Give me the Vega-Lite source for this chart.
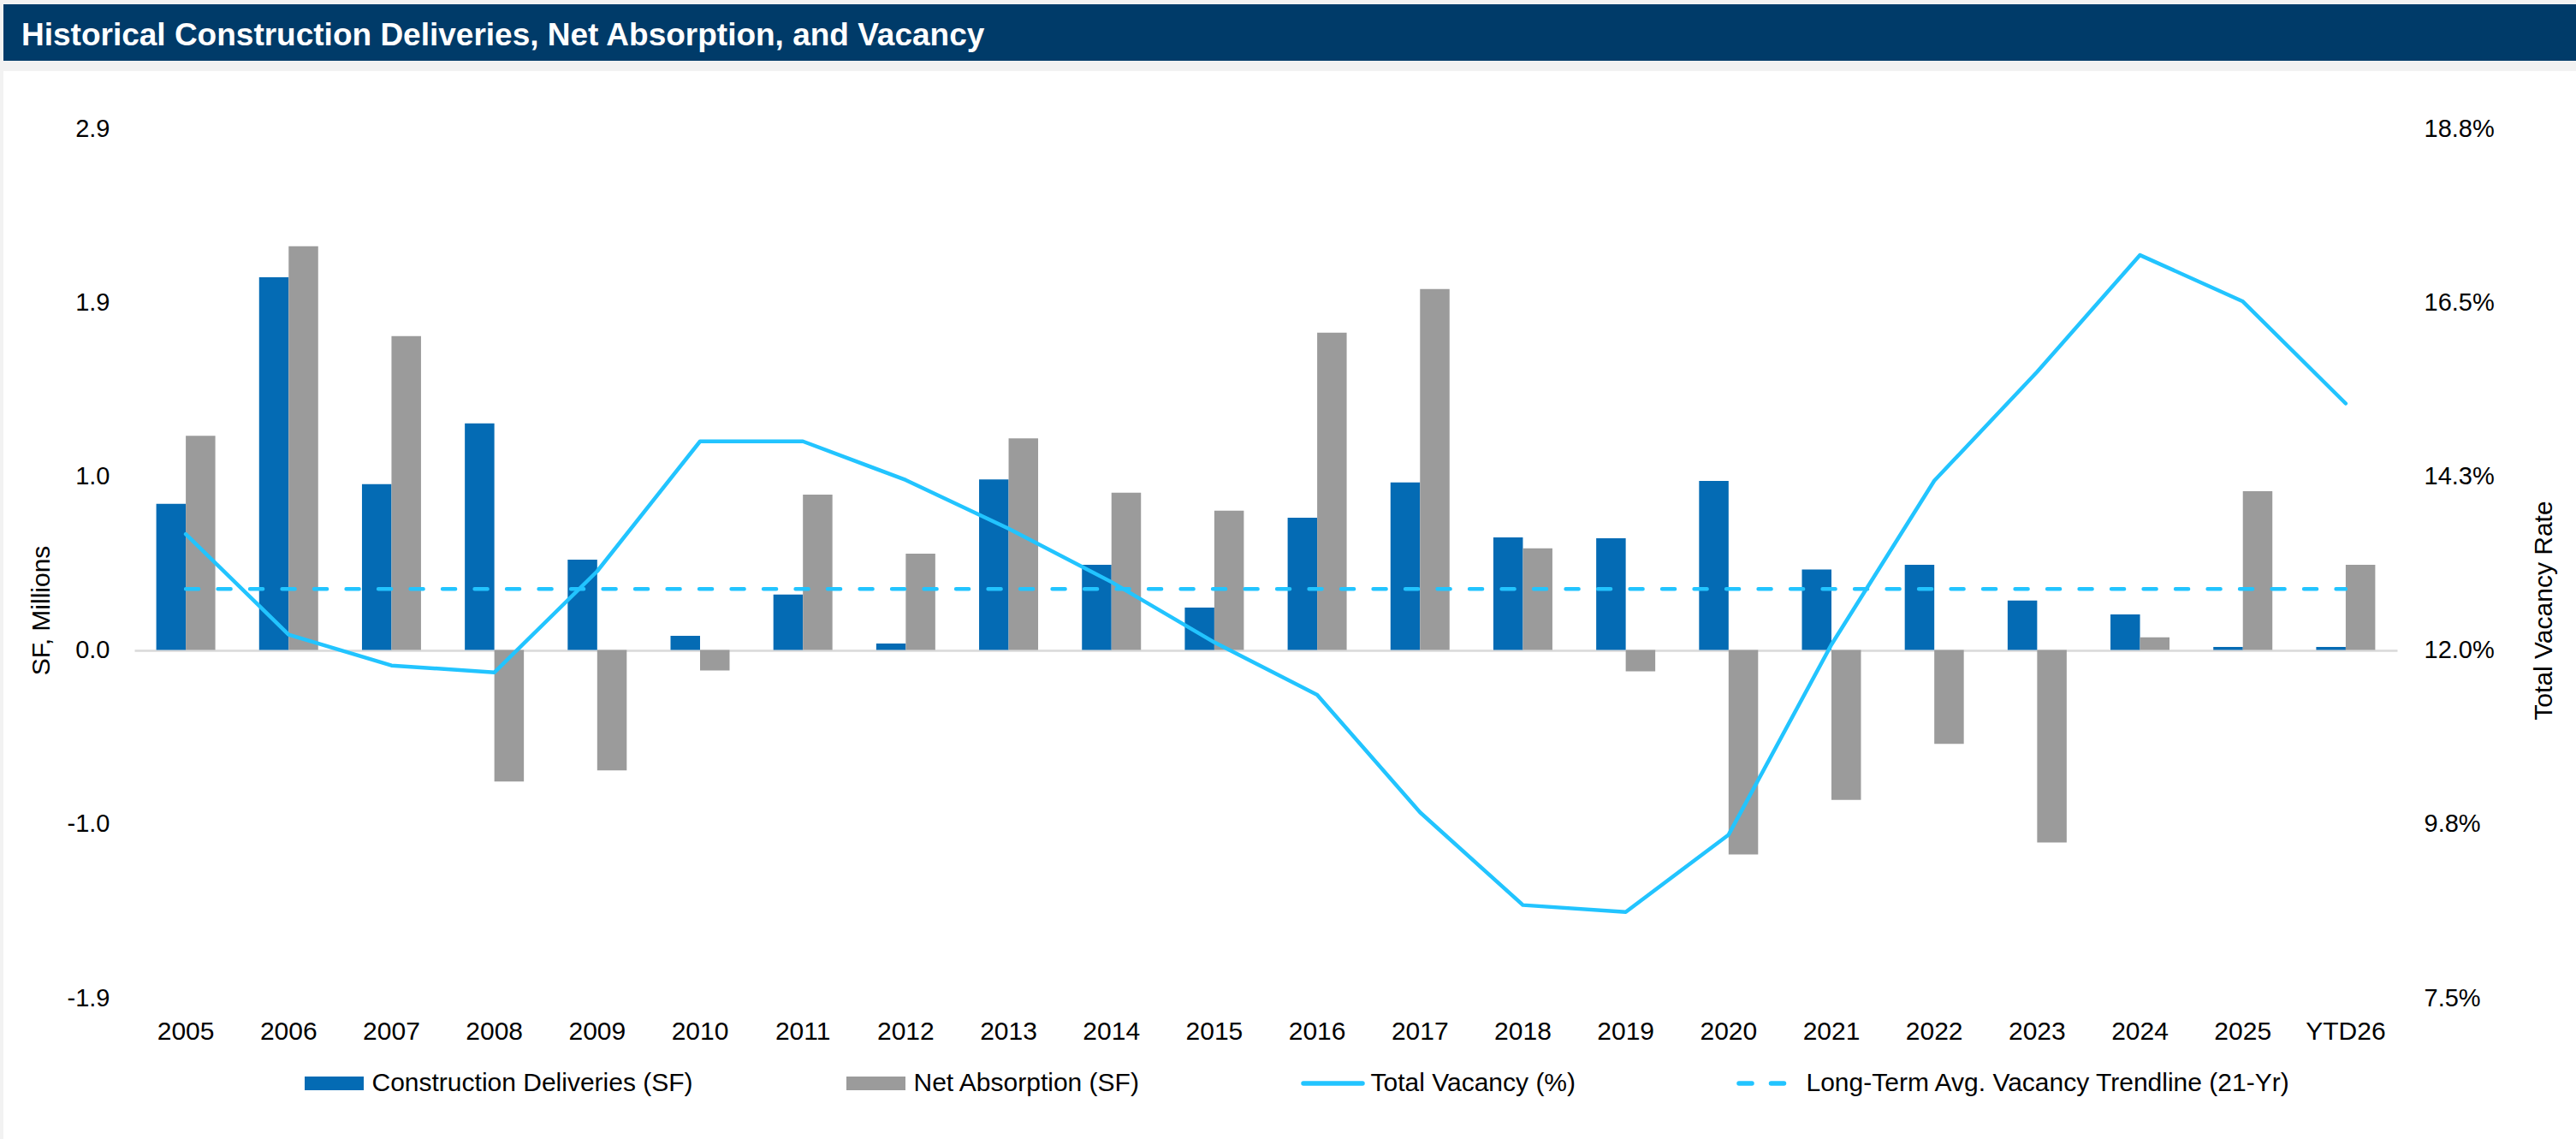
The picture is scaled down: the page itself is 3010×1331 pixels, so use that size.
{
  "$schema": "https://vega.github.io/schema/vega-lite/v6.json",
  "background": "#f2f2f2",
  "padding": {"left": 4, "top": 5, "right": 0, "bottom": 0},
  "spacing": 12,
  "config": {
    "font": "Liberation Sans",
    "view": {"stroke": null},
    "axis": {"labelColor": "#000000", "titleColor": "#000000", "titleFontWeight": "normal", "domain": false, "ticks": false, "tickSize": 0, "grid": false},
    "legend": {"labelColor": "#000000"}
  },
  "datasets": {
    "bars": [
      {"year": "2005", "series": "Construction Deliveries (SF)", "value": 0.807},
      {"year": "2005", "series": "Net Absorption (SF)", "value": 1.183},
      {"year": "2006", "series": "Construction Deliveries (SF)", "value": 2.058},
      {"year": "2006", "series": "Net Absorption (SF)", "value": 2.229},
      {"year": "2007", "series": "Construction Deliveries (SF)", "value": 0.916},
      {"year": "2007", "series": "Net Absorption (SF)", "value": 1.733},
      {"year": "2008", "series": "Construction Deliveries (SF)", "value": 1.251},
      {"year": "2008", "series": "Net Absorption (SF)", "value": -0.726},
      {"year": "2009", "series": "Construction Deliveries (SF)", "value": 0.499},
      {"year": "2009", "series": "Net Absorption (SF)", "value": -0.665},
      {"year": "2010", "series": "Construction Deliveries (SF)", "value": 0.079},
      {"year": "2010", "series": "Net Absorption (SF)", "value": -0.113},
      {"year": "2011", "series": "Construction Deliveries (SF)", "value": 0.306},
      {"year": "2011", "series": "Net Absorption (SF)", "value": 0.858},
      {"year": "2012", "series": "Construction Deliveries (SF)", "value": 0.036},
      {"year": "2012", "series": "Net Absorption (SF)", "value": 0.532},
      {"year": "2013", "series": "Construction Deliveries (SF)", "value": 0.942},
      {"year": "2013", "series": "Net Absorption (SF)", "value": 1.169},
      {"year": "2014", "series": "Construction Deliveries (SF)", "value": 0.470},
      {"year": "2014", "series": "Net Absorption (SF)", "value": 0.868},
      {"year": "2015", "series": "Construction Deliveries (SF)", "value": 0.234},
      {"year": "2015", "series": "Net Absorption (SF)", "value": 0.769},
      {"year": "2016", "series": "Construction Deliveries (SF)", "value": 0.730},
      {"year": "2016", "series": "Net Absorption (SF)", "value": 1.752},
      {"year": "2017", "series": "Construction Deliveries (SF)", "value": 0.925},
      {"year": "2017", "series": "Net Absorption (SF)", "value": 1.993},
      {"year": "2018", "series": "Construction Deliveries (SF)", "value": 0.622},
      {"year": "2018", "series": "Net Absorption (SF)", "value": 0.562},
      {"year": "2019", "series": "Construction Deliveries (SF)", "value": 0.617},
      {"year": "2019", "series": "Net Absorption (SF)", "value": -0.118},
      {"year": "2020", "series": "Construction Deliveries (SF)", "value": 0.933},
      {"year": "2020", "series": "Net Absorption (SF)", "value": -1.129},
      {"year": "2021", "series": "Construction Deliveries (SF)", "value": 0.444},
      {"year": "2021", "series": "Net Absorption (SF)", "value": -0.827},
      {"year": "2022", "series": "Construction Deliveries (SF)", "value": 0.470},
      {"year": "2022", "series": "Net Absorption (SF)", "value": -0.518},
      {"year": "2023", "series": "Construction Deliveries (SF)", "value": 0.273},
      {"year": "2023", "series": "Net Absorption (SF)", "value": -1.063},
      {"year": "2024", "series": "Construction Deliveries (SF)", "value": 0.197},
      {"year": "2024", "series": "Net Absorption (SF)", "value": 0.070},
      {"year": "2025", "series": "Construction Deliveries (SF)", "value": 0.017},
      {"year": "2025", "series": "Net Absorption (SF)", "value": 0.877},
      {"year": "YTD26", "series": "Construction Deliveries (SF)", "value": 0.017},
      {"year": "YTD26", "series": "Net Absorption (SF)", "value": 0.470}
    ],
    "vac": [
      {"year": "2005", "vacancy": 13.50, "avg": 12.79},
      {"year": "2006", "vacancy": 12.20, "avg": 12.79},
      {"year": "2007", "vacancy": 11.80, "avg": 12.79},
      {"year": "2008", "vacancy": 11.71, "avg": 12.79},
      {"year": "2009", "vacancy": 13.02, "avg": 12.79},
      {"year": "2010", "vacancy": 14.70, "avg": 12.79},
      {"year": "2011", "vacancy": 14.70, "avg": 12.79},
      {"year": "2012", "vacancy": 14.20, "avg": 12.79},
      {"year": "2013", "vacancy": 13.57, "avg": 12.79},
      {"year": "2014", "vacancy": 12.88, "avg": 12.79},
      {"year": "2015", "vacancy": 12.10, "avg": 12.79},
      {"year": "2016", "vacancy": 11.42, "avg": 12.79},
      {"year": "2017", "vacancy": 9.90, "avg": 12.79},
      {"year": "2018", "vacancy": 8.70, "avg": 12.79},
      {"year": "2019", "vacancy": 8.61, "avg": 12.79},
      {"year": "2020", "vacancy": 9.61, "avg": 12.79},
      {"year": "2021", "vacancy": 12.07, "avg": 12.79},
      {"year": "2022", "vacancy": 14.19, "avg": 12.79},
      {"year": "2023", "vacancy": 15.60, "avg": 12.79},
      {"year": "2024", "vacancy": 17.11, "avg": 12.79},
      {"year": "2025", "vacancy": 16.51, "avg": 12.79},
      {"year": "YTD26", "vacancy": 15.19, "avg": 12.79}
    ]
  },
  "vconcat": [
    {
      "width": 3006,
      "height": 66,
      "view": {"fill": "#003b69", "stroke": null},
      "data": {"values": [{"title": "Historical Construction Deliveries, Net Absorption, and Vacancy"}]},
      "mark": {"type": "text", "align": "left", "baseline": "alphabetic", "font": "Liberation Sans", "fontWeight": "bold", "fontSize": 37, "color": "#ffffff"},
      "encoding": {
        "text": {"field": "title", "type": "nominal"},
        "x": {"value": 21},
        "y": {"value": 48}
      }
    },
    {
      "width": 3006,
      "height": 1248,
      "view": {"fill": "#ffffff", "stroke": null},
      "resolve": {"scale": {"y": "independent"}, "axis": {"y": "independent"}},
      "layer": [
        {
          "data": {"name": "bars"},
          "mark": {"type": "bar"},
          "encoding": {
            "x": {
              "field": "year", "type": "nominal",
              "scale": {"domain": ["2005","2006","2007","2008","2009","2010","2011","2012","2013","2014","2015","2016","2017","2018","2019","2020","2021","2022","2023","2024","2025","YTD26"], "range": [153, 2797], "paddingInner": 0.426, "paddingOuter": 0.213},
              "axis": {"title": null, "orient": "bottom", "offset": -165, "labelAngle": 0, "labelFontSize": 30, "labelPadding": 24, "domain": false, "ticks": false}
            },
            "xOffset": {"field": "series", "type": "nominal", "scale": {"domain": ["Construction Deliveries (SF)", "Net Absorption (SF)"], "paddingInner": 0, "paddingOuter": 0}},
            "y": {
              "field": "value", "type": "quantitative",
              "scale": {"domain": [-1.92, 2.88], "range": [1083, 67], "nice": false, "zero": false},
              "axis": {
                "title": "SF, Millions", "orient": "left", "offset": -153,
                "values": [-1.92, -0.96, 0, 0.96, 1.92, 2.88],
                "labelExpr": "replace(format(datum.value, '.1f'), '\u2212', '-')",
                "labelPadding": 29, "labelFontSize": 29,
                "grid": true, "gridColor": "#d9d9d9", "gridWidth": 2.5,
                "gridOpacity": {"condition": {"test": "datum.value === 0", "value": 1}, "value": 0},
                "titleFontSize": 30, "titleAngle": 270, "titleBaseline": "bottom", "titleAlign": "center",
                "titleX": -94, "titleY": 630
              }
            },
            "color": {
              "field": "series", "type": "nominal",
              "scale": {"domain": ["Construction Deliveries (SF)", "Net Absorption (SF)", "Total Vacancy (%)", "Long-Term Avg. Vacancy Trendline (21-Yr)"], "range": ["#046bb4", "#9b9b9b", "#22c4ff", "#22c4ff"]},
              "legend": {
                "title": null, "orient": "none", "legendX": 352, "legendY": 1246,
                "direction": "horizontal", "columns": 4, "padding": 0,
                "symbolSize": 4761, "symbolStrokeWidth": 0, "symbolOffset": 19.5, "labelOffset": 29, "columnPadding": 179,
                "labelFontSize": 30, "labelLimit": 1000, "labelFont": "Liberation Sans",
                "encode": {
                  "symbols": {
                    "update": {
                      "shape": {"signal": "indexof(['Construction Deliveries (SF)','Net Absorption (SF)'], datum.value) >= 0 ? 'M-1,-0.232H1V0.232H-1Z' : 'stroke'"},
                      "fill": {"signal": "indexof(['Construction Deliveries (SF)','Net Absorption (SF)'], datum.value) >= 0 ? scale('color', datum.value) : 'transparent'"},
                      "stroke": {"signal": "scale('color', datum.value)"},
                      "strokeWidth": {"signal": "indexof(['Construction Deliveries (SF)','Net Absorption (SF)'], datum.value) >= 0 ? 0 : 5.5"},
                      "strokeDash": {"signal": "datum.value === 'Long-Term Avg. Vacancy Trendline (21-Yr)' ? [15, 22.5] : [1, 0]"},
                      "strokeCap": {"value": "round"},
                      "size": {"value": 4761},
                      "opacity": {"value": 1},
                      "fillOpacity": {"value": 1}
                    }
                  }
                }
              }
            }
          }
        },
        {
          "data": {"name": "vac"},
          "mark": {"type": "line", "strokeWidth": 4.5, "strokeCap": "round", "strokeJoin": "round"},
          "encoding": {
            "x": {"field": "year", "type": "nominal", "scale": {"domain": ["2005","2006","2007","2008","2009","2010","2011","2012","2013","2014","2015","2016","2017","2018","2019","2020","2021","2022","2023","2024","2025","YTD26"], "range": [153, 2797], "paddingInner": 0.426, "paddingOuter": 0.213}},
            "y": {
              "field": "vacancy", "type": "quantitative",
              "scale": {"domain": [7.5, 18.75], "range": [1083, 67], "nice": false, "zero": false},
              "axis": {
                "title": "Total Vacancy Rate", "orient": "right", "offset": -209,
                "values": [7.5, 9.75, 12, 14.25, 16.5, 18.75],
                "labelExpr": "format(datum.value, '.1f') + '%'",
                "labelPadding": 31, "labelFontSize": 29, "grid": false,
                "titleFontSize": 30, "titleAngle": 270, "titleBaseline": "top", "titleAlign": "center",
                "titleX": 156, "titleY": 630
              }
            },
            "color": {"datum": "Total Vacancy (%)", "type": "nominal"}
          }
        },
        {
          "data": {"name": "vac"},
          "mark": {"type": "line", "strokeWidth": 4.5, "strokeDash": [15, 22.5], "strokeCap": "round"},
          "encoding": {
            "x": {"field": "year", "type": "nominal", "scale": {"domain": ["2005","2006","2007","2008","2009","2010","2011","2012","2013","2014","2015","2016","2017","2018","2019","2020","2021","2022","2023","2024","2025","YTD26"], "range": [153, 2797], "paddingInner": 0.426, "paddingOuter": 0.213}},
            "y": {
              "field": "avg", "type": "quantitative",
              "scale": {"domain": [7.5, 18.75], "range": [1083, 67], "nice": false, "zero": false},
              "axis": null
            },
            "color": {"datum": "Long-Term Avg. Vacancy Trendline (21-Yr)", "type": "nominal"}
          }
        }
      ]
    }
  ]
}
